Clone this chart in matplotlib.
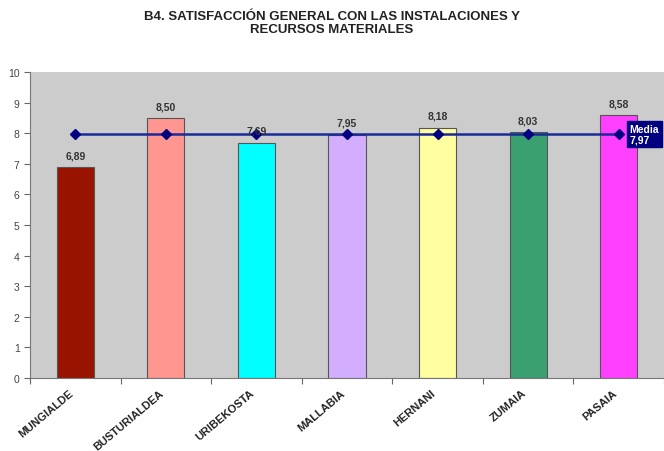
import matplotlib
matplotlib.use('Agg')
import matplotlib.pyplot as plt
import numpy as np

plt.rcParams['font.family'] = ['Liberation Sans', 'DejaVu Sans']

# data
centros = ['MUNGIALDE', 'BUSTURIALDEA', 'URIBEKOSTA', 'MALLABIA', 'HERNANI', 'ZUMAIA', 'PASAIA']
valores = [6.89, 8.50, 7.69, 7.95, 8.18, 8.03, 8.58]
media = 7.97
colores = ['#991400', '#FF9690', '#00FFFF', '#D3AEFF', '#FFFFA0', '#3AA070', '#FF40FF']

fig = plt.figure(figsize=(6.64, 4.52), dpi=100)
ax = fig.add_axes([30 / 664, 1 - 379 / 452, 634 / 664, 306 / 452])
ax.set_facecolor('#CCCCCC')

x = np.arange(len(centros))
ax.bar(x, valores, width=0.41, color=colores, edgecolor='#555555', linewidth=0.8, zorder=2)

for xi, v in zip(x, valores):
    ax.text(xi, v + 0.22, f'{v:.2f}'.replace('.', ','), ha='center', va='bottom',
            fontsize=7.5, fontweight='bold', color='#333333', zorder=4)

# linea de la media
ax.plot(x, [media] * len(x), color='#1a2a9a', linewidth=1.8, marker='D',
        markersize=5.5, markerfacecolor='#000080', markeredgecolor='#000080', zorder=3)
ax.text(x[-1] + 0.12, media, 'Media\n' + f'{media:.2f}'.replace('.', ','),
        ha='left', va='center', fontsize=7.5, fontweight='bold', color='white',
        linespacing=1.1, zorder=5,
        bbox=dict(boxstyle='square,pad=0.25', facecolor='#000080', edgecolor='#000080'))

ax.set_xlim(-0.5, len(centros) - 0.5)
ax.set_ylim(0, 10)
ax.set_yticks(range(0, 11))
ax.tick_params(axis='y', labelsize=7.5, labelcolor='#444444', length=4, color='#666666')
ax.set_xticks(np.arange(-0.5, len(centros) + 0.5, 1))
ax.set_xticklabels([])
ax.tick_params(axis='x', length=4, color='#666666')
for xi, c in zip(x, centros):
    ax.text(xi - 0.07, -0.3, c, rotation=40, ha='right', va='top', fontsize=8,
            fontweight='heavy', color='#222222', rotation_mode='anchor')

for s in ['top', 'right']:
    ax.spines[s].set_visible(False)
for s in ['left', 'bottom']:
    ax.spines[s].set_color('#777777')

fig.text(0.5, 0.975, 'B4. SATISFACCIÓN GENERAL CON LAS INSTALACIONES Y\nRECURSOS MATERIALES',
         ha='center', va='top', fontsize=9.5, fontweight='bold', color='#222222', linespacing=1.1)

fig.savefig('out.png', dpi=100)
